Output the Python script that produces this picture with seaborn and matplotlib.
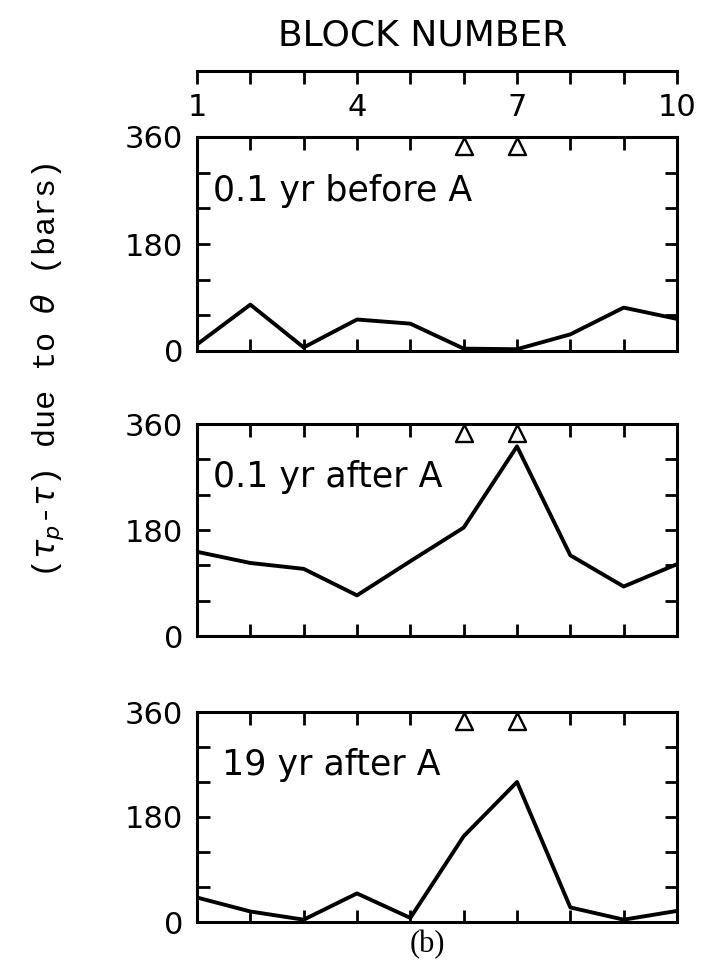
import numpy as np
import pandas as pd
import matplotlib
matplotlib.use("Agg")
import matplotlib.pyplot as plt
import seaborn as sns

# ---- data ----
blocks = [1, 2, 3, 4, 5, 6, 7, 8, 9, 10]
before_01 = [11, 78, 6, 53, 46, 4, 3, 28, 73, 54]
after_01 = [143, 124, 114, 69, 127, 184, 322, 137, 84, 122]
after_19 = [42, 18, 4, 49, 7, 147, 240, 25, 4, 19]
panel_labels = ["0.1 yr before A", "0.1 yr after A", "19 yr after A"]
marker_blocks = [6, 7]
marker_level = 345
top_ticks = [1, 4, 7, 10]
y_major = [0, 180, 360]
y_minor = [60, 120, 240, 300]

sns.set_theme(style="ticks")
plt.rcParams["font.family"] = ["DejaVu Sans"]
plt.rcParams["mathtext.fontset"] = "dejavusans"

fig = plt.figure(figsize=(7.04, 9.61), dpi=100)

W, H = 704.0, 961.0
left = 197 / W
width = 480 / W

panels = [
    (351, 214, before_01, panel_labels[0], 0.033),
    (636, 212, after_01, panel_labels[1], 0.033),
    (922, 210, after_19, panel_labels[2], 0.052),
]

for bottom_px, h_px, vals, lab, tx in panels:
    ax = fig.add_axes([left, (H - bottom_px) / H, width, h_px / H])
    df = pd.DataFrame({"block": blocks, "stress": vals})
    sns.lineplot(data=df, x="block", y="stress", ax=ax, color="black",
                 linewidth=2.8, zorder=2)
    mdf = pd.DataFrame({"block": marker_blocks,
                        "stress": [marker_level] * len(marker_blocks)})
    sns.scatterplot(data=mdf, x="block", y="stress", ax=ax, marker="^",
                    s=150, facecolor="white", edgecolor="black",
                    linewidth=1.7, zorder=3)
    ax.set_xlim(1, 10)
    ax.set_ylim(0, 360)
    ax.set_xticks(blocks[1:-1])
    ax.set_xticklabels([])
    ax.set_yticks(y_major)
    ax.set_yticklabels([str(v) for v in y_major])
    ax.set_yticks(y_minor, minor=True)
    ax.set_xlabel("")
    ax.set_ylabel("")
    ax.tick_params(which="both", direction="in", top=True, right=True,
                   bottom=True, left=True, length=9, width=2.0,
                   color="black", labelcolor="black", labelsize=22, pad=10)
    for s in ax.spines.values():
        s.set_linewidth(2.2)
        s.set_color("black")
    ax.text(tx, 0.75, lab, transform=ax.transAxes, fontsize=25,
            va="center", ha="left", color="black")

# top "block number" scale
axt = fig.add_axes([left, (H - 71) / H, width, 0.0001])
axt.set_xlim(1, 10)
axt.set_ylim(0, 1)
axt.set_xticks(top_ticks)
axt.set_xticklabels([str(v) for v in top_ticks])
axt.set_xticks(blocks, minor=True)
axt.set_yticks([])
for k in ["top", "left", "right"]:
    axt.spines[k].set_visible(False)
axt.spines["bottom"].set_linewidth(2.2)
axt.spines["bottom"].set_color("black")
axt.tick_params(which="both", direction="out", length=9, width=2.0,
                color="black", labelcolor="black", labelsize=22, pad=7)
axt.patch.set_visible(False)

fig.text(423 / W, 1 - 35 / H, "BLOCK NUMBER", fontsize=26, ha="center",
         va="center", color="black")

fig.text(48 / W, 1 - 370 / H, r"($\tau_p$-$\tau$) due to $\theta$ (bars)",
         rotation=90, ha="center", va="center", fontsize=23,
         family=["Liberation Mono", "DejaVu Sans Mono"], color="black")

fig.text(427 / W, 1 - 945 / H, "(b)", fontsize=22, ha="center", va="center",
         family=["Liberation Serif", "DejaVu Serif"], color="black")

fig.savefig("out.png", dpi=100, facecolor="white")
